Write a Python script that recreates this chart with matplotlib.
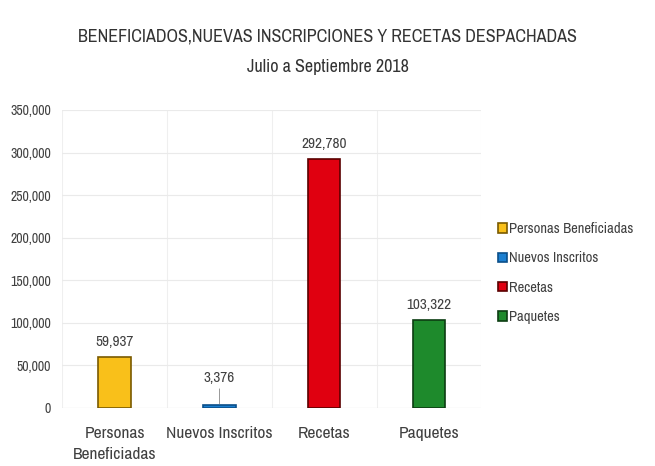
import matplotlib.pyplot as plt
from matplotlib import font_manager
from matplotlib.ticker import FuncFormatter

categories = ["Personas\nBeneficiadas", "Nuevos Inscritos", "Recetas", "Paquetes"]
legend_names = ["Personas Beneficiadas", "Nuevos Inscritos", "Recetas", "Paquetes"]
values = [59937, 3376, 292780, 103322]
colors = ["#F9C01A", "#1B7FD0", "#E00010", "#1E8A2C"]
edges = ["#7A5A00", "#0B4F8A", "#5A0000", "#0C3D12"]

# narrow font looks closest to the original Calibri-ish text
names = sorted({f.name for f in font_manager.fontManager.ttflist})
narrow = [n for n in names if 'Narrow' in n or 'Condensed' in n]
plt.rcParams['font.family'] = narrow[:1] + ['DejaVu Sans']

fig = plt.figure(figsize=(6.55, 4.66), dpi=100)
ax = fig.add_axes([0.095, 0.1245, 0.64, 0.6395])

x = list(range(len(values)))
for i in x:
    ax.bar(i, values[i], width=0.31, color=colors[i], edgecolor=edges[i],
           linewidth=1.2, label=legend_names[i], zorder=3)

for i in x:
    if values[i] < 10000:
        ax.annotate(f"{values[i]:,}", xy=(i, values[i]), xytext=(i, values[i] + 24000),
                    ha='center', va='bottom', fontsize=11, color='#404040',
                    arrowprops=dict(arrowstyle='-', color='#888888', lw=0.6,
                                    shrinkA=1, shrinkB=1))
    else:
        ax.text(i, values[i] + 9000, f"{values[i]:,}", ha='center', va='bottom',
                fontsize=11, color='#404040')

ax.set_xlim(-0.5, 3.5)
ax.set_ylim(0, 350000)
ax.set_yticks(range(0, 350001, 50000))
ax.yaxis.set_major_formatter(FuncFormatter(lambda v, p: f"{int(v):,}"))
ax.set_xticks(x)
ax.set_xticklabels(categories, fontsize=12.5, color='#404040', linespacing=1.5)
ax.tick_params(axis='y', labelsize=10, colors='#404040', length=0, pad=8)
ax.tick_params(axis='x', length=0, pad=13)

ax.grid(axis='y', color='#EAEAEA', lw=0.8, zorder=0)
for b in [0.5, 1.5, 2.5, 3.5]:
    ax.axvline(b, color='#EFEFEF', lw=0.8, zorder=0)
for s in ax.spines.values():
    s.set_visible(False)
ax.axvline(-0.5, color='#EFEFEF', lw=0.8, zorder=0)
ax.axhline(0, color='#E0E0E0', lw=0.8, zorder=1)

fig.text(0.5, 0.922, "BENEFICIADOS,NUEVAS INSCRIPCIONES Y RECETAS DESPACHADAS",
         ha='center', va='center', fontsize=13, color='#333333')
fig.text(0.5, 0.856, "Julio a Septiembre 2018", ha='center', va='center',
         fontsize=13, color='#333333')

fig.legend(loc='center left', bbox_to_anchor=(0.74, 0.414), frameon=False,
           fontsize=10.5, handlelength=0.6, handleheight=0.6, handletextpad=0.15,
           labelspacing=1.05, labelcolor='#404040')

fig.savefig("out.png", dpi=100)
